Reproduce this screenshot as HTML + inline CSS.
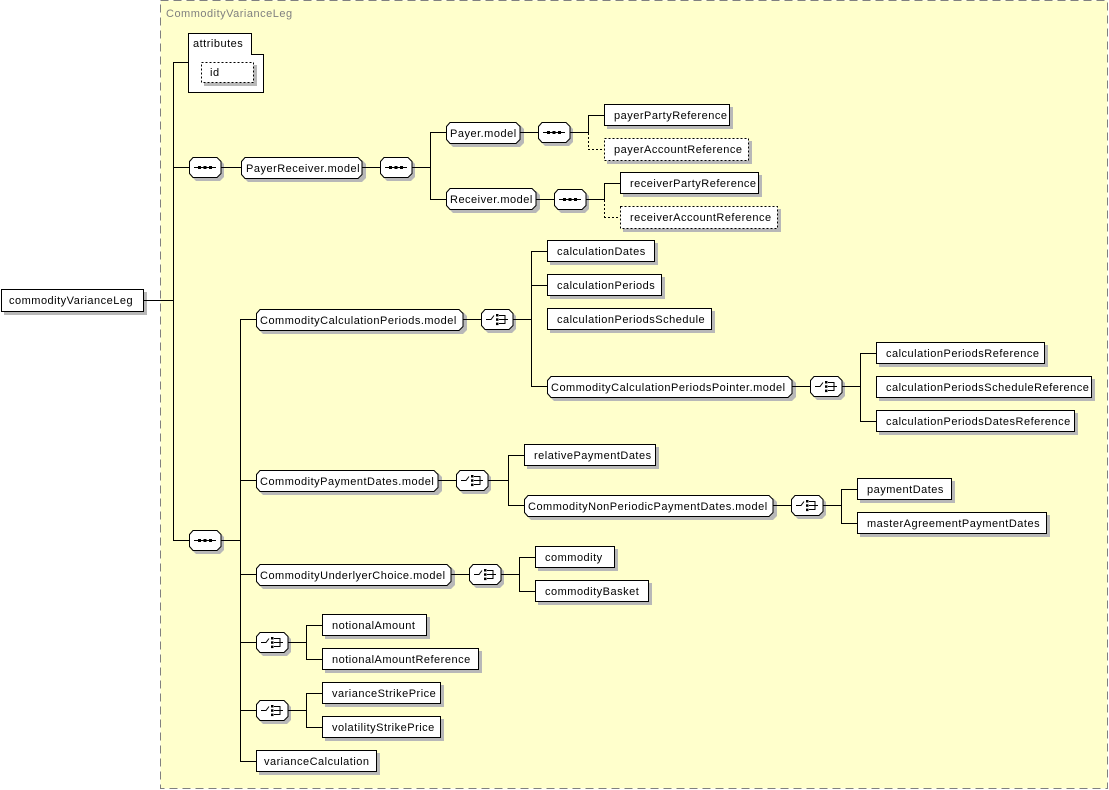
<!DOCTYPE html>
<html><head><meta charset="utf-8"><style>
html,body{margin:0;padding:0;background:#fff;}
svg{display:block;}
text{font-family:"Liberation Sans","DejaVu Sans",sans-serif;font-size:11px;fill:#000;letter-spacing:0.5px;}
.l{stroke:#000;stroke-width:1;fill:none;}
.d{stroke:#000;stroke-width:1;fill:none;stroke-dasharray:2,2;}
.s{fill:#b8b8b8;}
.w{fill:#fff;stroke:#000;}
.wd{fill:#fff;stroke:#000;stroke-dasharray:2,2;}
</style></head><body>
<svg width="1109" height="790" viewBox="0 0 1109 790" xmlns="http://www.w3.org/2000/svg">
<defs>
<g id="seq">
<polygon class="s" points="7,3 31,3 35,7 35,20 31,24 7,24 3,20 3,7"/>
<polygon class="w" points="4,0.5 28,0.5 32,4.5 32,16.5 28,20.5 4,20.5 0.5,16.5 0.5,4.5"/>
<line x1="5" y1="10.5" x2="27" y2="10.5" stroke="#000"/>
<rect x="9" y="9" width="3" height="3"/><rect x="14.5" y="9" width="3" height="3"/><rect x="20" y="9" width="3" height="3"/>
</g>
<g id="ch">
<polygon class="s" points="7,3 31,3 35,7 35,20 31,24 7,24 3,20 3,7"/>
<polygon class="w" points="4,0.5 28,0.5 32,4.5 32,16.5 28,20.5 4,20.5 0.5,16.5 0.5,4.5"/>
<polyline points="5,10.5 10,10.5 13,6.5" stroke="#000" fill="none"/>
<rect x="15" y="5" width="2.5" height="2.5"/><rect x="15" y="9.3" width="2.5" height="2.5"/><rect x="15" y="13.6" width="2.5" height="2.5"/>
<polyline points="18,6.5 24,6.5 24,14.5 18,14.5" stroke="#000" fill="none"/>
<line x1="18" y1="10.5" x2="27" y2="10.5" stroke="#000"/>
</g>
</defs>
<rect x="0" y="0" width="1109" height="790" fill="#fff"/>
<rect x="160.5" y="0.5" width="947" height="788" fill="#ffffcc" stroke="#808080" stroke-dasharray="8,5"/>
<text x="166" y="17" style="fill:#808080">CommodityVarianceLeg</text>

<rect class="s" x="4" y="292" width="143" height="23"/>
<rect class="w" x="1.5" y="289.5" width="142" height="22"/>
<text x="9" y="304">commodityVarianceLeg</text>
<line class="l" x1="143" y1="300.5" x2="173" y2="300.5"/>
<line class="l" x1="173.5" y1="62" x2="173.5" y2="540"/>

<line class="l" x1="173" y1="62.5" x2="189" y2="62.5"/>
<polygon class="w" points="188.5,33.5 251.5,33.5 251.5,54.5 263.5,54.5 263.5,92.5 188.5,92.5"/>
<text x="193" y="47">attributes</text>
<rect class="s" x="204" y="65" width="53" height="21"/>
<rect class="wd" x="201.5" y="62.5" width="52" height="20"/>
<text x="210" y="76">id</text>

<line class="l" x1="173" y1="167.5" x2="189" y2="167.5"/>
<use href="#seq" x="189" y="157"/>
<line class="l" x1="221" y1="167.5" x2="241" y2="167.5"/>
<polygon class="s" points="248,160 362,160 366,164 366,178 362,182 248,182 244,178 244,164"/>
<polygon class="w" points="245,157.5 358,157.5 362,161.5 362,174.5 358,178.5 245,178.5 241.5,174.5 241.5,161.5"/>
<text x="246" y="172">PayerReceiver.model</text>
<line class="l" x1="362" y1="167.5" x2="380" y2="167.5"/>
<use href="#seq" x="380" y="157"/>
<line class="l" x1="412" y1="167.5" x2="430" y2="167.5"/>
<line class="l" x1="430.5" y1="132" x2="430.5" y2="199"/>
<line class="l" x1="430" y1="132.5" x2="446" y2="132.5"/>
<line class="l" x1="430" y1="199.5" x2="446" y2="199.5"/>

<polygon class="s" points="453,125 520,125 524,129 524,143 520,147 453,147 449,143 449,129"/>
<polygon class="w" points="450,122.5 516,122.5 520,126.5 520,139.5 516,143.5 450,143.5 446.5,139.5 446.5,126.5"/>
<text x="450" y="137">Payer.model</text>
<line class="l" x1="520" y1="132.5" x2="538" y2="132.5"/>
<use href="#seq" x="538" y="122"/>
<line class="l" x1="570" y1="132.5" x2="588" y2="132.5"/>
<line class="l" x1="588.5" y1="115" x2="588.5" y2="133"/>
<line class="d" x1="588.5" y1="133" x2="588.5" y2="149"/>
<line class="l" x1="588" y1="115.5" x2="604" y2="115.5"/>
<line class="d" x1="588" y1="149.5" x2="604" y2="149.5"/>
<rect class="s" x="607" y="107" width="126" height="22"/>
<rect class="w" x="604.5" y="104.5" width="125" height="21"/>
<text x="614" y="119">payerPartyReference</text>
<rect class="s" x="607" y="141" width="145" height="23"/>
<rect class="wd" x="604.5" y="138.5" width="144" height="22"/>
<text x="614" y="153">payerAccountReference</text>

<polygon class="s" points="453,191 536,191 540,195 540,209 536,213 453,213 449,209 449,195"/>
<polygon class="w" points="450,188.5 532,188.5 536,192.5 536,205.5 532,209.5 450,209.5 446.5,205.5 446.5,192.5"/>
<text x="450" y="203">Receiver.model</text>
<line class="l" x1="536" y1="199.5" x2="554" y2="199.5"/>
<use href="#seq" x="554" y="189"/>
<line class="l" x1="586" y1="199.5" x2="604" y2="199.5"/>
<line class="l" x1="604.5" y1="183" x2="604.5" y2="200"/>
<line class="d" x1="604.5" y1="200" x2="604.5" y2="217"/>
<line class="l" x1="604" y1="183.5" x2="620" y2="183.5"/>
<line class="d" x1="604" y1="217.5" x2="620" y2="217.5"/>
<rect class="s" x="623" y="175" width="139" height="22"/>
<rect class="w" x="620.5" y="172.5" width="138" height="21"/>
<text x="630" y="187">receiverPartyReference</text>
<rect class="s" x="623" y="209" width="158" height="23"/>
<rect class="wd" x="620.5" y="206.5" width="157" height="22"/>
<text x="630" y="221">receiverAccountReference</text>

<line class="l" x1="173" y1="540.5" x2="189" y2="540.5"/>
<use href="#seq" x="189" y="530"/>
<line class="l" x1="221" y1="540.5" x2="240" y2="540.5"/>
<line class="l" x1="240.5" y1="319" x2="240.5" y2="761"/>

<line class="l" x1="240" y1="319.5" x2="256" y2="319.5"/>
<polygon class="s" points="263,312 463,312 467,316 467,330 463,334 263,334 259,330 259,316"/>
<polygon class="w" points="260,309.5 459,309.5 463,313.5 463,326.5 459,330.5 260,330.5 256.5,326.5 256.5,313.5"/>
<text x="260" y="324">CommodityCalculationPeriods.model</text>
<line class="l" x1="463" y1="319.5" x2="481" y2="319.5"/>
<use href="#ch" x="481" y="309"/>
<line class="l" x1="513" y1="319.5" x2="531" y2="319.5"/>
<line class="l" x1="531.5" y1="251" x2="531.5" y2="386"/>
<line class="l" x1="531" y1="251.5" x2="547" y2="251.5"/>
<line class="l" x1="531" y1="285.5" x2="547" y2="285.5"/>
<line class="l" x1="531" y1="386.5" x2="547" y2="386.5"/>
<rect class="s" x="550" y="243" width="108" height="22"/>
<rect class="w" x="547.5" y="240.5" width="107" height="21"/>
<text x="557" y="255">calculationDates</text>
<rect class="s" x="550" y="277" width="115" height="22"/>
<rect class="w" x="547.5" y="274.5" width="114" height="21"/>
<text x="557" y="289">calculationPeriods</text>
<rect class="s" x="550" y="311" width="165" height="22"/>
<rect class="w" x="547.5" y="308.5" width="164" height="21"/>
<text x="557" y="323">calculationPeriodsSchedule</text>
<polygon class="s" points="554,379 792,379 796,383 796,397 792,401 554,401 550,397 550,383"/>
<polygon class="w" points="551,376.5 788,376.5 792,380.5 792,393.5 788,397.5 551,397.5 547.5,393.5 547.5,380.5"/>
<text x="551" y="391">CommodityCalculationPeriodsPointer.model</text>
<line class="l" x1="792" y1="386.5" x2="810" y2="386.5"/>
<use href="#ch" x="810" y="376"/>
<line class="l" x1="842" y1="386.5" x2="860" y2="386.5"/>
<line class="l" x1="860.5" y1="353" x2="860.5" y2="421"/>
<line class="l" x1="860" y1="353.5" x2="876" y2="353.5"/>
<line class="l" x1="860" y1="421.5" x2="876" y2="421.5"/>
<rect class="s" x="879" y="345" width="169" height="22"/>
<rect class="w" x="876.5" y="342.5" width="168" height="21"/>
<text x="886" y="357">calculationPeriodsReference</text>
<rect class="s" x="879" y="379" width="216" height="22"/>
<rect class="w" x="876.5" y="376.5" width="215" height="21"/>
<text x="886" y="391">calculationPeriodsScheduleReference</text>
<rect class="s" x="879" y="413" width="199" height="22"/>
<rect class="w" x="876.5" y="410.5" width="198" height="21"/>
<text x="886" y="425">calculationPeriodsDatesReference</text>

<line class="l" x1="240" y1="480.5" x2="256" y2="480.5"/>
<polygon class="s" points="263,473 438,473 442,477 442,491 438,495 263,495 259,491 259,477"/>
<polygon class="w" points="260,470.5 434,470.5 438,474.5 438,487.5 434,491.5 260,491.5 256.5,487.5 256.5,474.5"/>
<text x="260" y="485">CommodityPaymentDates.model</text>
<line class="l" x1="438" y1="480.5" x2="456" y2="480.5"/>
<use href="#ch" x="456" y="470"/>
<line class="l" x1="488" y1="480.5" x2="508" y2="480.5"/>
<line class="l" x1="508.5" y1="455" x2="508.5" y2="505"/>
<line class="l" x1="508" y1="455.5" x2="524" y2="455.5"/>
<line class="l" x1="508" y1="505.5" x2="524" y2="505.5"/>
<rect class="s" x="527" y="447" width="132" height="22"/>
<rect class="w" x="524.5" y="444.5" width="131" height="21"/>
<text x="534" y="459">relativePaymentDates</text>
<polygon class="s" points="531,498 773,498 777,502 777,516 773,520 531,520 527,516 527,502"/>
<polygon class="w" points="528,495.5 769,495.5 773,499.5 773,512.5 769,516.5 528,516.5 524.5,512.5 524.5,499.5"/>
<text x="528" y="510">CommodityNonPeriodicPaymentDates.model</text>
<line class="l" x1="773" y1="505.5" x2="791" y2="505.5"/>
<use href="#ch" x="791" y="495"/>
<line class="l" x1="823" y1="505.5" x2="841" y2="505.5"/>
<line class="l" x1="841.5" y1="489" x2="841.5" y2="523"/>
<line class="l" x1="841" y1="489.5" x2="857" y2="489.5"/>
<line class="l" x1="841" y1="523.5" x2="857" y2="523.5"/>
<rect class="s" x="860" y="481" width="95" height="22"/>
<rect class="w" x="857.5" y="478.5" width="94" height="21"/>
<text x="867" y="493">paymentDates</text>
<rect class="s" x="860" y="515" width="190" height="22"/>
<rect class="w" x="857.5" y="512.5" width="189" height="21"/>
<text x="867" y="527">masterAgreementPaymentDates</text>

<line class="l" x1="240" y1="574.5" x2="256" y2="574.5"/>
<polygon class="s" points="263,567 451,567 455,571 455,585 451,589 263,589 259,585 259,571"/>
<polygon class="w" points="260,564.5 447,564.5 451,568.5 451,581.5 447,585.5 260,585.5 256.5,581.5 256.5,568.5"/>
<text x="260" y="579">CommodityUnderlyerChoice.model</text>
<line class="l" x1="451" y1="574.5" x2="469" y2="574.5"/>
<use href="#ch" x="469" y="564"/>
<line class="l" x1="501" y1="574.5" x2="519" y2="574.5"/>
<line class="l" x1="519.5" y1="557" x2="519.5" y2="591"/>
<line class="l" x1="519" y1="557.5" x2="535" y2="557.5"/>
<line class="l" x1="519" y1="591.5" x2="535" y2="591.5"/>
<rect class="s" x="538" y="549" width="80" height="22"/>
<rect class="w" x="535.5" y="546.5" width="79" height="21"/>
<text x="545" y="561">commodity</text>
<rect class="s" x="538" y="583" width="114" height="22"/>
<rect class="w" x="535.5" y="580.5" width="113" height="21"/>
<text x="545" y="595">commodityBasket</text>

<line class="l" x1="240" y1="642.5" x2="256" y2="642.5"/>
<use href="#ch" x="256" y="632"/>
<line class="l" x1="288" y1="642.5" x2="306" y2="642.5"/>
<line class="l" x1="306.5" y1="625" x2="306.5" y2="659"/>
<line class="l" x1="306" y1="625.5" x2="322" y2="625.5"/>
<line class="l" x1="306" y1="659.5" x2="322" y2="659.5"/>
<rect class="s" x="325" y="617" width="105" height="22"/>
<rect class="w" x="322.5" y="614.5" width="104" height="21"/>
<text x="332" y="629">notionalAmount</text>
<rect class="s" x="325" y="651" width="157" height="22"/>
<rect class="w" x="322.5" y="648.5" width="156" height="21"/>
<text x="332" y="663">notionalAmountReference</text>

<line class="l" x1="240" y1="710.5" x2="256" y2="710.5"/>
<use href="#ch" x="256" y="700"/>
<line class="l" x1="288" y1="710.5" x2="306" y2="710.5"/>
<line class="l" x1="306.5" y1="693" x2="306.5" y2="727"/>
<line class="l" x1="306" y1="693.5" x2="322" y2="693.5"/>
<line class="l" x1="306" y1="727.5" x2="322" y2="727.5"/>
<rect class="s" x="325" y="685" width="119" height="22"/>
<rect class="w" x="322.5" y="682.5" width="118" height="21"/>
<text x="332" y="697">varianceStrikePrice</text>
<rect class="s" x="325" y="719" width="119" height="22"/>
<rect class="w" x="322.5" y="716.5" width="118" height="21"/>
<text x="332" y="731">volatilityStrikePrice</text>

<line class="l" x1="240" y1="761.5" x2="256" y2="761.5"/>
<rect class="s" x="259" y="753" width="121" height="22"/>
<rect class="w" x="256.5" y="750.5" width="120" height="21"/>
<text x="264" y="765">varianceCalculation</text>
</svg>
</body></html>
